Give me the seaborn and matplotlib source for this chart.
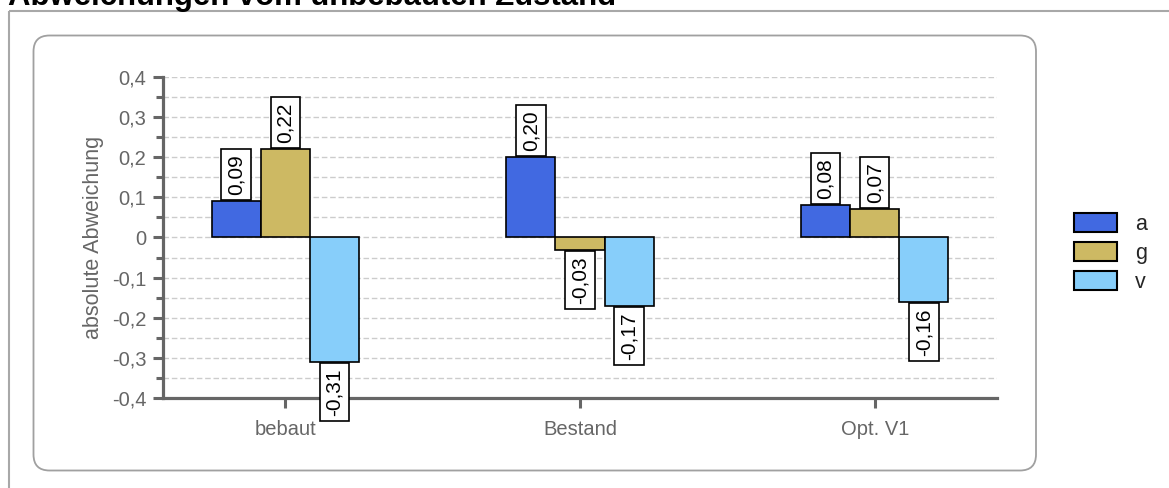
import matplotlib
matplotlib.use("Agg")
import matplotlib.pyplot as plt
from matplotlib.patches import FancyBboxPatch, Rectangle, Patch
from matplotlib.ticker import MultipleLocator, FuncFormatter
import seaborn as sns
import pandas as pd

# Data
categories = ["bebaut", "Bestand", "Opt. V1"]
series = ["a", "g", "v"]
values_a = [0.09, 0.20, 0.08]
values_g = [0.22, -0.03, 0.07]
values_v = [-0.31, -0.17, -0.16]
colors = ["#4169E1", "#CDB963", "#87CEFA"]

title = "Abweichungen vom unbebauten Zustand"
ylabel = "absolute Abweichung"

sns.set_style("white")
plt.rcParams["font.family"] = ["Liberation Sans", "DejaVu Sans"]

W, H = 1169, 488
fig = plt.figure(figsize=(W / 100, H / 100), dpi=100)

# Background layer in pixel coordinates: outer frame, rounded panel, title
bg = fig.add_axes([0, 0, 1, 1], zorder=-5)
bg.set_xlim(0, W)
bg.set_ylim(H, 0)
bg.axis("off")
bg.add_patch(Rectangle((8.5, 10.5), W + 20, H + 20, fill=False,
                       edgecolor="#a8a8a8", linewidth=1.5, clip_on=False))
bg.add_patch(FancyBboxPatch((33.5, 35.5), 1002.5, 435,
                            boxstyle="round,pad=0,rounding_size=16",
                            fill=False, edgecolor="#a0a0a0", linewidth=1.3))
bg.text(8, 4.5, title, fontsize=22.4, fontweight="bold", color="black",
        ha="left", va="baseline")

# Long-form table for seaborn
vals = {"a": values_a, "g": values_g, "v": values_v}
df = pd.DataFrame([
    {"Kategorie": c, "Serie": s, "Wert": vals[s][i]}
    for s in series for i, c in enumerate(categories)
])

ax = fig.add_axes([163 / W, 1 - 398 / H, (997 - 163) / W, (398 - 77) / H])
sns.barplot(data=df, x="Kategorie", y="Wert", hue="Serie", order=categories,
            hue_order=series, palette=dict(zip(series, colors)), width=0.5,
            edgecolor="black", linewidth=1.2, saturation=1, legend=False,
            ax=ax, zorder=3)

ax.set_xlim(-0.415, 2.415)
ax.set_ylim(-0.4, 0.4)
ax.yaxis.set_major_locator(MultipleLocator(0.1))
ax.yaxis.set_minor_locator(MultipleLocator(0.05))
ax.yaxis.set_major_formatter(FuncFormatter(
    lambda v, _: "0" if abs(v) < 1e-9 else f"{v:.1f}".replace(".", ",")))

ax.set_axisbelow(True)
ax.grid(which="both", axis="y", color="#cccccc", linestyle=(0, (4, 2)),
        linewidth=1)
ax.grid(axis="x", visible=False)

grey = "#666666"
for side in ("top", "right"):
    ax.spines[side].set_visible(False)
for side in ("left", "bottom"):
    ax.spines[side].set_color(grey)
    ax.spines[side].set_linewidth(2.3)

ax.tick_params(axis="y", which="major", length=7, width=2.2, color=grey,
               labelcolor=grey, labelsize=14.5, pad=5, left=True)
ax.tick_params(axis="y", which="minor", length=5, width=2.2, color=grey,
               left=True)
ax.tick_params(axis="x", length=7, width=2.2, color=grey, labelcolor=grey,
               labelsize=14.5, pad=9, bottom=True)

ax.set_xlabel("")
ax.set_ylabel(ylabel, fontsize=15.5, color=grey, labelpad=6)

# Value labels in boxes at the bar ends
for cont, s in zip(ax.containers, series):
    for rect, v in zip(cont, vals[s]):
        xc = rect.get_x() + rect.get_width() / 2
        txt = f"{v:.2f}".replace(".", ",")
        pos = v >= 0
        ax.annotate(txt, xy=(xc, v), xytext=(0, 4.6 if pos else -4.6),
                    textcoords="offset points", rotation=90, ha="center",
                    va="bottom" if pos else "top", fontsize=15,
                    color="black", zorder=10, annotation_clip=False,
                    bbox=dict(boxstyle="square,pad=0.25", facecolor="white",
                              edgecolor="black", linewidth=1.2))

handles = [Patch(facecolor=c, edgecolor="black", linewidth=1.5) for c in colors]
fig.legend(handles, series, loc="center left",
           bbox_to_anchor=(1074 / W, 1 - 253 / H), frameon=False,
           fontsize=15.5, handlelength=2.0, handleheight=1.0,
           labelspacing=0.33, handletextpad=0.85, borderpad=0,
           borderaxespad=0)

fig.savefig("out.png", dpi=100)
